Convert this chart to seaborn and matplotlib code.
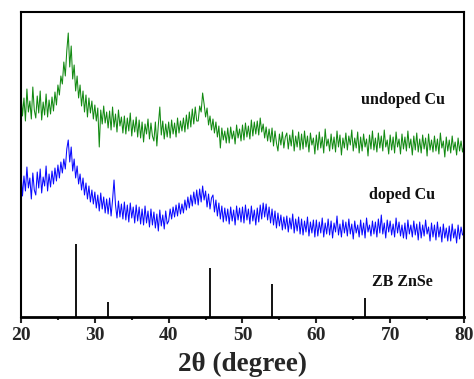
import numpy as np
import pandas as pd
import matplotlib
matplotlib.use("Agg")
import matplotlib.pyplot as plt
import seaborn as sns
from matplotlib.ticker import MultipleLocator

# 2theta grid (degrees), 0.2 step from 20 to 80
two_theta = [round(20 + 0.2 * i, 1) for i in range(301)]

# undoped Cu intensity (a.u., offset)
undoped = [
    224, 201, 219, 196, 228, 205, 216, 198, 230, 207,
    199, 221, 204, 226, 197, 215, 202, 223, 200, 217,
    203, 220, 206, 225, 212, 232, 222, 241, 233, 255,
    241, 266, 284, 250, 271, 238, 252, 226, 241, 219,
    232, 211, 226, 205, 222, 200, 219, 204, 216, 198,
    212, 196, 209, 170, 207, 193, 211, 194, 205, 189,
    206, 187, 210, 190, 203, 185, 207, 191, 200, 184,
    201, 183, 199, 186, 204, 181, 197, 185, 200, 180,
    197, 179, 195, 175, 193, 183, 198, 178, 194, 181,
    176, 195, 171, 192, 210, 182, 196, 178, 193, 180,
    195, 179, 197, 183, 194, 180, 199, 184, 196, 186,
    199, 185, 202, 188, 205, 190, 208, 193, 210, 196,
    196, 211, 205, 224, 213, 200, 209, 192, 201, 187,
    198, 184, 195, 180, 191, 169, 189, 177, 186, 174,
    189, 174, 190, 178, 186, 173, 192, 179, 188, 176,
    192, 177, 194, 180, 191, 178, 197, 181, 195, 183,
    196, 182, 199, 185, 193, 179, 190, 176, 188, 175,
    189, 171, 186, 174, 166, 183, 172, 185, 169, 180,
    184, 168, 182, 171, 187, 166, 181, 170, 185, 167,
    183, 168, 186, 170, 181, 165, 184, 172, 179, 163,
    182, 167, 185, 169, 180, 164, 188, 171, 178, 166,
    183, 168, 180, 165, 186, 170, 182, 162, 179, 169,
    184, 167, 181, 172, 187, 166, 179, 169, 185, 164,
    180, 166, 183, 170, 178, 161, 182, 168, 186, 167,
    179, 165, 184, 169, 181, 166, 187, 170, 177, 163,
    182, 167, 180, 164, 185, 170, 178, 163, 183, 168,
    180, 166, 186, 169, 178, 162, 181, 167, 184, 165,
    178, 164, 182, 168, 179, 161, 183, 167, 177, 165,
    181, 166, 178, 163, 184, 169, 176, 160, 180, 166,
    177, 164, 181, 167, 175, 162, 179, 166, 176, 165,
    172,
]

# doped Cu intensity (a.u., offset)
doped = [
    146, 121, 141, 126, 150, 129, 139, 118, 144, 127,
    122, 145, 129, 148, 124, 140, 131, 151, 126, 143,
    130, 146, 133, 149, 136, 152, 139, 155, 144, 158,
    148, 168, 177, 155, 170, 146, 158, 139, 151, 133,
    143, 127, 139, 122, 134, 118, 131, 115, 127, 113,
    125, 109, 122, 106, 124, 108, 120, 104, 118, 103,
    119, 101, 117, 137, 112, 99, 116, 100, 113, 98,
    115, 97, 112, 95, 114, 99, 110, 94, 112, 96,
    110, 93, 108, 92, 111, 94, 106, 90, 108, 92,
    105, 89, 103, 86, 107, 91, 102, 88, 106, 93,
    96, 108, 98, 110, 100, 112, 101, 114, 103, 113,
    104, 117, 107, 120, 109, 122, 111, 125, 113, 127,
    112, 128, 115, 131, 117, 126, 110, 123, 108, 119,
    122, 105, 117, 101, 114, 98, 111, 95, 109, 96,
    108, 93, 110, 96, 107, 92, 111, 97, 109, 95,
    110, 94, 112, 97, 108, 93, 111, 96, 107, 92,
    109, 95, 112, 98, 114, 100, 113, 97, 110, 94,
    108, 92, 106, 89, 104, 91, 102, 87, 100, 88,
    101, 85, 99, 88, 103, 84, 98, 86, 100, 83,
    98, 82, 96, 85, 100, 81, 95, 84, 97, 80,
    97, 81, 95, 84, 99, 80, 94, 83, 98, 82,
    96, 79, 94, 85, 101, 82, 93, 80, 97, 84,
    95, 81, 98, 83, 93, 78, 96, 84, 92, 80,
    97, 82, 94, 79, 99, 85, 92, 81, 96, 83,
    95, 80, 98, 84, 102, 83, 94, 79, 97, 85,
    96, 82, 93, 80, 99, 84, 95, 81, 92, 79,
    94, 78, 97, 83, 92, 80, 96, 82, 93, 77,
    95, 79, 92, 81, 97, 83, 90, 76, 94, 80,
    92, 77, 95, 80, 90, 75, 93, 79, 89, 76,
    91, 76, 93, 79, 88, 74, 92, 78, 90, 82,
    84,
]

# ZB ZnSe reference peaks
ref_pos = [27.4, 31.8, 45.6, 54.0, 66.6]
ref_int = [73, 15, 49, 33, 19]

labels = ["undoped Cu", "doped Cu", "ZB ZnSe"]

sns.set_theme(style="ticks")
plt.rcParams["font.family"] = ["Liberation Serif", "DejaVu Serif"]

fig = plt.figure(figsize=(4.74, 3.79), dpi=100)
ax = fig.add_axes([21 / 474, 1 - 317 / 379, 443 / 474, 305 / 379])

df = pd.DataFrame({
    "two_theta": two_theta * 2,
    "intensity": undoped + doped,
    "sample": ["undoped"] * len(undoped) + ["doped"] * len(doped),
})
sns.lineplot(data=df, x="two_theta", y="intensity", hue="sample",
             palette={"undoped": "#128a12", "doped": "#0a0aff"},
             linewidth=0.75, legend=False, ax=ax, estimator=None, sort=False)

ax.vlines(ref_pos, 0, ref_int, colors="black", linewidth=1.3)

ax.set_xlim(20, 80)
ax.set_ylim(0, 305)
ax.set_yticks([])
ax.xaxis.set_major_locator(MultipleLocator(10))
ax.xaxis.set_minor_locator(MultipleLocator(5))
ax.tick_params(axis="x", which="major", direction="out", length=4, width=1.5,
               pad=3, labelsize=14)
ax.tick_params(axis="x", which="minor", direction="out", length=2.5, width=1.5)
for lab in ax.get_xticklabels():
    lab.set_fontweight("bold")
for side in ["left", "right", "top", "bottom"]:
    ax.spines[side].set_visible(True)
    ax.spines[side].set_color("black")
    ax.spines[side].set_linewidth(1.5)
ax.spines["bottom"].set_linewidth(2)

ax.set_xlabel("2θ (degree)", fontsize=19.5, fontweight="bold", labelpad=6)
ax.set_ylabel("")

txt_x = [71.7, 71.6, 71.7]
txt_y = [217, 122, 35]
for t, x, y in zip(labels, txt_x, txt_y):
    ax.text(x, y, t, ha="center", va="center", fontsize=11.5,
            fontweight="bold", color="#111111")

fig.savefig("out.png", dpi=100)
